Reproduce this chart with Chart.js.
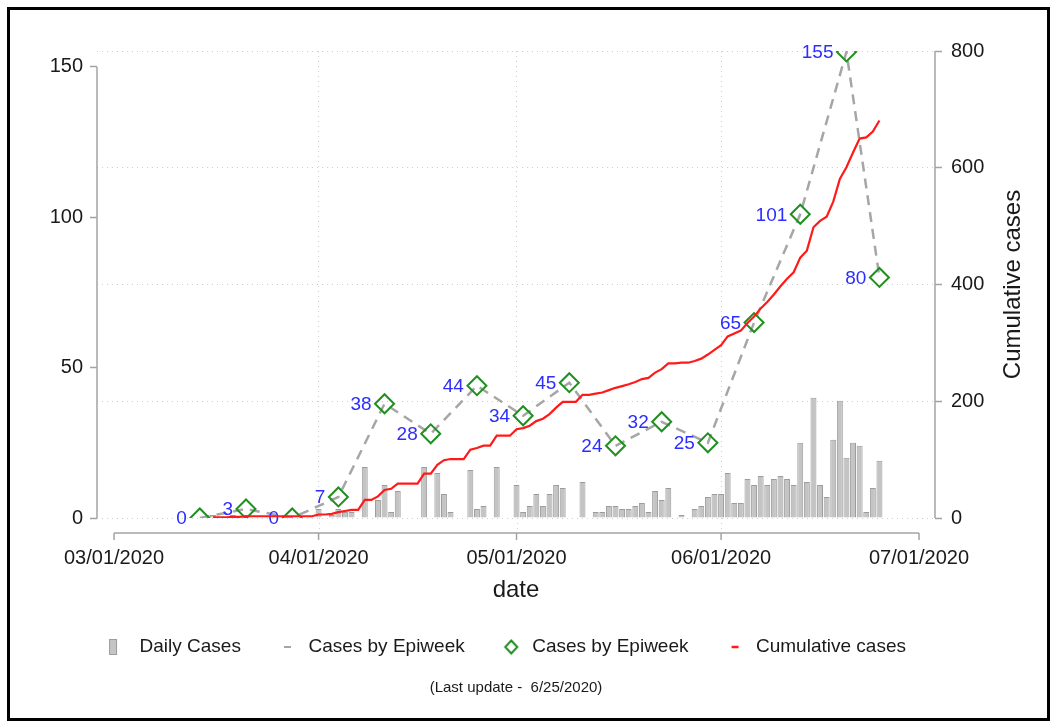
<!DOCTYPE html>
<html>
<head>
<meta charset="utf-8">
<script src="https://cdn.jsdelivr.net/npm/chart.js@4.4.1/dist/chart.umd.min.js"></script>
<style>
html,body{margin:0;padding:0;background:#fff;}
#wrap{position:relative;width:1050px;height:722px;overflow:hidden;background:#fff;}
#c{position:absolute;left:0;top:0;}
#frame{position:absolute;left:7px;top:7px;width:1037px;height:708px;border:3px solid #000;pointer-events:none;}
</style>
</head>
<body>
<div id="wrap"><canvas id="c" width="1050" height="722"></canvas><div id="frame"></div></div>
<script>
// Day offsets are counted from 03/01/2020 (day 0).
const tickDays = [0, 31, 61, 92, 122];
const tickLabels = ['03/01/2020', '04/01/2020', '05/01/2020', '06/01/2020', '07/01/2020'];

const dailyDays = [15,16,17,18,19,20,21,22,23,24,25,26,27,28,29,30,31,32,33,34,35,36,37,38,39,40,41,42,43,44,45,46,47,48,49,50,51,52,53,54,55,56,57,58,59,60,61,62,63,64,65,66,67,68,69,70,71,72,73,74,75,76,77,78,79,80,81,82,83,84,85,86,87,88,89,90,91,92,93,94,95,96,97,98,99,100,101,102,103,104,105,106,107,108,109,110,111,112,113,114,115,116];
const dailyCases = [1,0,0,1,0,1, 0,0,0,0,0,0,0,0,0,0,
  3,0,1,3,2,2,0, 17,0,6,11,2,9,0, 0,0,17,0,15,8,2, 0,0,16,3,4,0,17,
  0,0,11,2,4,8,4, 8,11,10,0,0,12,0, 2,2,4,4,3,3,4, 5,2,9,6,10,0,1,
  0,3,4,7,8,8,15, 5,5,13,11,14,11,13, 14,13,11,25,12,40,11, 7,26,39,20,25,24,2,
  10,19];
const cumulativeCases = [1,1,1,2,2,3, 3,3,3,3,3,3,3,3,3,3,
  6,6,7,10,12,14,14, 31,31,37,48,50,59,59, 59,59,76,76,91,99,101, 101,101,117,120,124,124,141,
  141,141,152,154,158,166,170, 178,189,199,199,199,211,211, 213,215,219,223,226,229,233, 238,240,249,255,265,265,266,
  266,269,273,280,288,296,311, 316,321,334,345,359,370,383, 397,410,421,446,458,498,509, 516,542,581,601,626,650,652,
  662,681];

const weekDays = [13,20,27,34,41,48,55,62,69,76,83,90,97,104,111,116];
const weekCases = [0,3,0,7,38,28,44,34,45,24,32,25,65,101,155,80];

const seriesLabels = ['Daily Cases', 'Cases by Epiweek', 'Cases by Epiweek', 'Cumulative cases'];
const subtitleText = '(Last update -  6/25/2020)';
const xTitle = 'date';
const y2Title = 'Cumulative cases';

const FONT = "'Liberation Sans', Arial, sans-serif";
const axisColor = '#a3a3a3';
const gridColor = '#cfcfcf';
const barFill = '#c4c4c4';
const barEdge = '#9c9c9c';
const dashGray = '#a6a6a6';
const diamondGreen = '#1f8f1f';
const labelBlue = '#2d2dff';
const cumRed = '#ff1a1a';

function pts(xs, ys) { return xs.map((d, i) => ({x: d, y: ys[i]})); }

function symbol(draw) {
  const c = document.createElement('canvas');
  c.width = 40; c.height = 20;
  const g = c.getContext('2d');
  draw(g);
  return c;
}
const legendSymbols = [
  symbol(g => { g.fillStyle = barFill; g.fillRect(3, 2, 8, 16); g.strokeStyle = barEdge; g.lineWidth = 1; g.strokeRect(3.5, 2.5, 7, 15); }),
  symbol(g => { g.strokeStyle = dashGray; g.lineWidth = 2; g.beginPath(); g.moveTo(9, 10); g.lineTo(16, 10); g.stroke(); }),
  symbol(g => { g.strokeStyle = diamondGreen; g.lineWidth = 2; g.beginPath(); g.moveTo(12.5, 3.5); g.lineTo(18.5, 10); g.lineTo(12.5, 16.5); g.lineTo(6.5, 10); g.closePath(); g.stroke(); }),
  symbol(g => { g.strokeStyle = cumRed; g.lineWidth = 2.5; g.beginPath(); g.moveTo(9, 10); g.lineTo(16, 10); g.stroke(); })
];

const stataAxes = {
  id: 'stataAxes',
  afterDatasetDraw(chart, args) {
    if (args.index !== 2) return;
    const {ctx} = chart;
    const meta = chart.getDatasetMeta(2);
    ctx.save();
    ctx.font = '19px ' + FONT;
    ctx.fillStyle = labelBlue;
    ctx.textAlign = 'right';
    ctx.textBaseline = 'middle';
    meta.data.forEach((pt, i) => {
      ctx.fillText(String(weekCases[i]), pt.x - 13, pt.y + 1);
    });
    ctx.restore();
  },
  afterDraw(chart) {
    const {ctx, chartArea: a, scales} = chart;
    const x = scales.x, y = scales.y, y2 = scales.y2;
    const line = (x1, y1, x2, y2_) => { ctx.beginPath(); ctx.moveTo(x1, y1); ctx.lineTo(x2, y2_); ctx.stroke(); };
    ctx.save();
    ctx.strokeStyle = gridColor; ctx.lineWidth = 1; ctx.setLineDash([1, 4]);
    const by = a.bottom + 15;
    tickDays.slice(1, -1).forEach(d => { const px = Math.round(x.getPixelForValue(d)) + 0.5; line(px, a.bottom, px, by); });
    ctx.setLineDash([]);
    ctx.strokeStyle = axisColor; ctx.lineWidth = 1.5;
    const yTop = y.ticks[y.ticks.length - 1].value;
    line(a.left, y.getPixelForValue(yTop), a.left, y.getPixelForValue(0));
    const y2Top = y2.ticks[y2.ticks.length - 1].value;
    line(a.right, y2.getPixelForValue(y2Top), a.right, y2.getPixelForValue(0));
    const x0 = x.getPixelForValue(tickDays[0]), x1 = x.getPixelForValue(tickDays[tickDays.length - 1]);
    line(x0, by, x1, by);
    tickDays.forEach(d => { const px = x.getPixelForValue(d); line(px, by, px, by + 7); });
    ctx.fillStyle = '#1a1a1a';
    ctx.font = '24px ' + FONT;
    ctx.textAlign = 'center';
    ctx.textBaseline = 'middle';
    ctx.translate(a.right + 78, (a.top + a.bottom) / 2);
    ctx.rotate(-Math.PI / 2);
    ctx.fillText(y2Title, 0, 0);
    ctx.restore();
  }
};

new Chart(document.getElementById('c'), {
  type: 'bar',
  data: {
    datasets: [
      {
        type: 'bar', label: seriesLabels[0], data: pts(dailyDays, dailyCases),
        xAxisID: 'x', yAxisID: 'y',
        backgroundColor: barFill, borderColor: barEdge, borderWidth: 1,
        barPercentage: 0.9, categoryPercentage: 1, grouped: false, order: 4
      },
      {
        type: 'line', label: seriesLabels[1], data: pts(weekDays, weekCases),
        xAxisID: 'x', yAxisID: 'y',
        borderColor: dashGray, borderWidth: 2.5, borderDash: [10, 7],
        pointRadius: 0, fill: false, tension: 0, order: 3
      },
      {
        type: 'line', label: seriesLabels[2], data: pts(weekDays, weekCases),
        xAxisID: 'x', yAxisID: 'y', showLine: false,
        pointStyle: 'rectRot', pointRadius: 9.5, pointBorderWidth: 2,
        pointBorderColor: diamondGreen, pointBackgroundColor: 'rgba(255,255,255,0)',
        order: 2
      },
      {
        type: 'line', label: seriesLabels[3], data: pts(dailyDays, cumulativeCases),
        xAxisID: 'x', yAxisID: 'y2',
        borderColor: cumRed, borderWidth: 2.2, pointRadius: 0, fill: false, tension: 0, order: 1
      }
    ]
  },
  options: {
    responsive: false,
    animation: false,
    devicePixelRatio: 1,
    events: [],
    layout: {padding: {top: 51, bottom: 15.5, left: 0, right: 22}},
    scales: {
      x: {
        type: 'linear', position: 'bottom', min: -2.58, max: 124.42, offset: false,
        afterBuildTicks: s => { s.ticks = tickDays.map(v => ({value: v})); },
        afterFit: s => { s.height = 69.5; },
        ticks: {
          autoSkip: false, maxRotation: 0, padding: 28, color: '#1a1a1a',
          font: {family: FONT, size: 20},
          callback: v => tickLabels[tickDays.indexOf(v)]
        },
        grid: {
          offset: false, drawTicks: false, lineWidth: 1,
          color: c => (c.tick && (c.tick.value === tickDays[0] || c.tick.value === tickDays[tickDays.length - 1])) ? 'rgba(0,0,0,0)' : gridColor
        },
        border: {display: false, dash: [1, 4]},
        title: {display: true, text: xTitle, color: '#1a1a1a', font: {family: FONT, size: 24, lineHeight: 0.6}, padding: {top: 0, bottom: -10}}
      },
      y: {
        type: 'linear', position: 'left', min: 0, max: 155.3,
        afterFit: s => { s.width = 97; },
        ticks: {stepSize: 50, includeBounds: false, padding: 7, color: '#1a1a1a', font: {family: FONT, size: 20}},
        grid: {drawOnChartArea: false, drawTicks: true, tickLength: 7, tickColor: axisColor, tickWidth: 1.5},
        border: {display: false}
      },
      y2: {
        type: 'linear', position: 'right', min: 0, max: 800,
        afterFit: s => { s.width = 93; },
        ticks: {stepSize: 200, includeBounds: false, padding: 9, color: '#1a1a1a', font: {family: FONT, size: 20}},
        grid: {drawOnChartArea: true, color: gridColor, lineWidth: 1, drawTicks: true, tickLength: 7, tickColor: axisColor, tickWidth: 1.5, tickBorderDash: []},
        border: {display: false, dash: [1, 4]}
      }
    },
    plugins: {
      tooltip: {enabled: false},
      title: {display: false},
      legend: {
        display: true, position: 'bottom', align: 'center', fullSize: true,
        labels: {
          usePointStyle: true, boxWidth: 8, padding: 50, color: '#1a1a1a',
          font: {family: FONT, size: 19},
          generateLabels: chart => chart.data.datasets.map((ds, i) => ({
            text: ds.label, pointStyle: legendSymbols[i], datasetIndex: i, hidden: false,
            fillStyle: 'rgba(0,0,0,0)', strokeStyle: 'rgba(0,0,0,0)', lineWidth: 0, fontColor: '#1a1a1a'
          }))
        }
      },
      subtitle: {
        display: true, position: 'bottom', fullSize: false, text: subtitleText, color: '#1a1a1a',
        font: {family: FONT, size: 15, weight: 'normal'}, padding: {top: 12, bottom: 10}
      }
    }
  },
  plugins: [stataAxes]
});
</script>
</body>
</html>
